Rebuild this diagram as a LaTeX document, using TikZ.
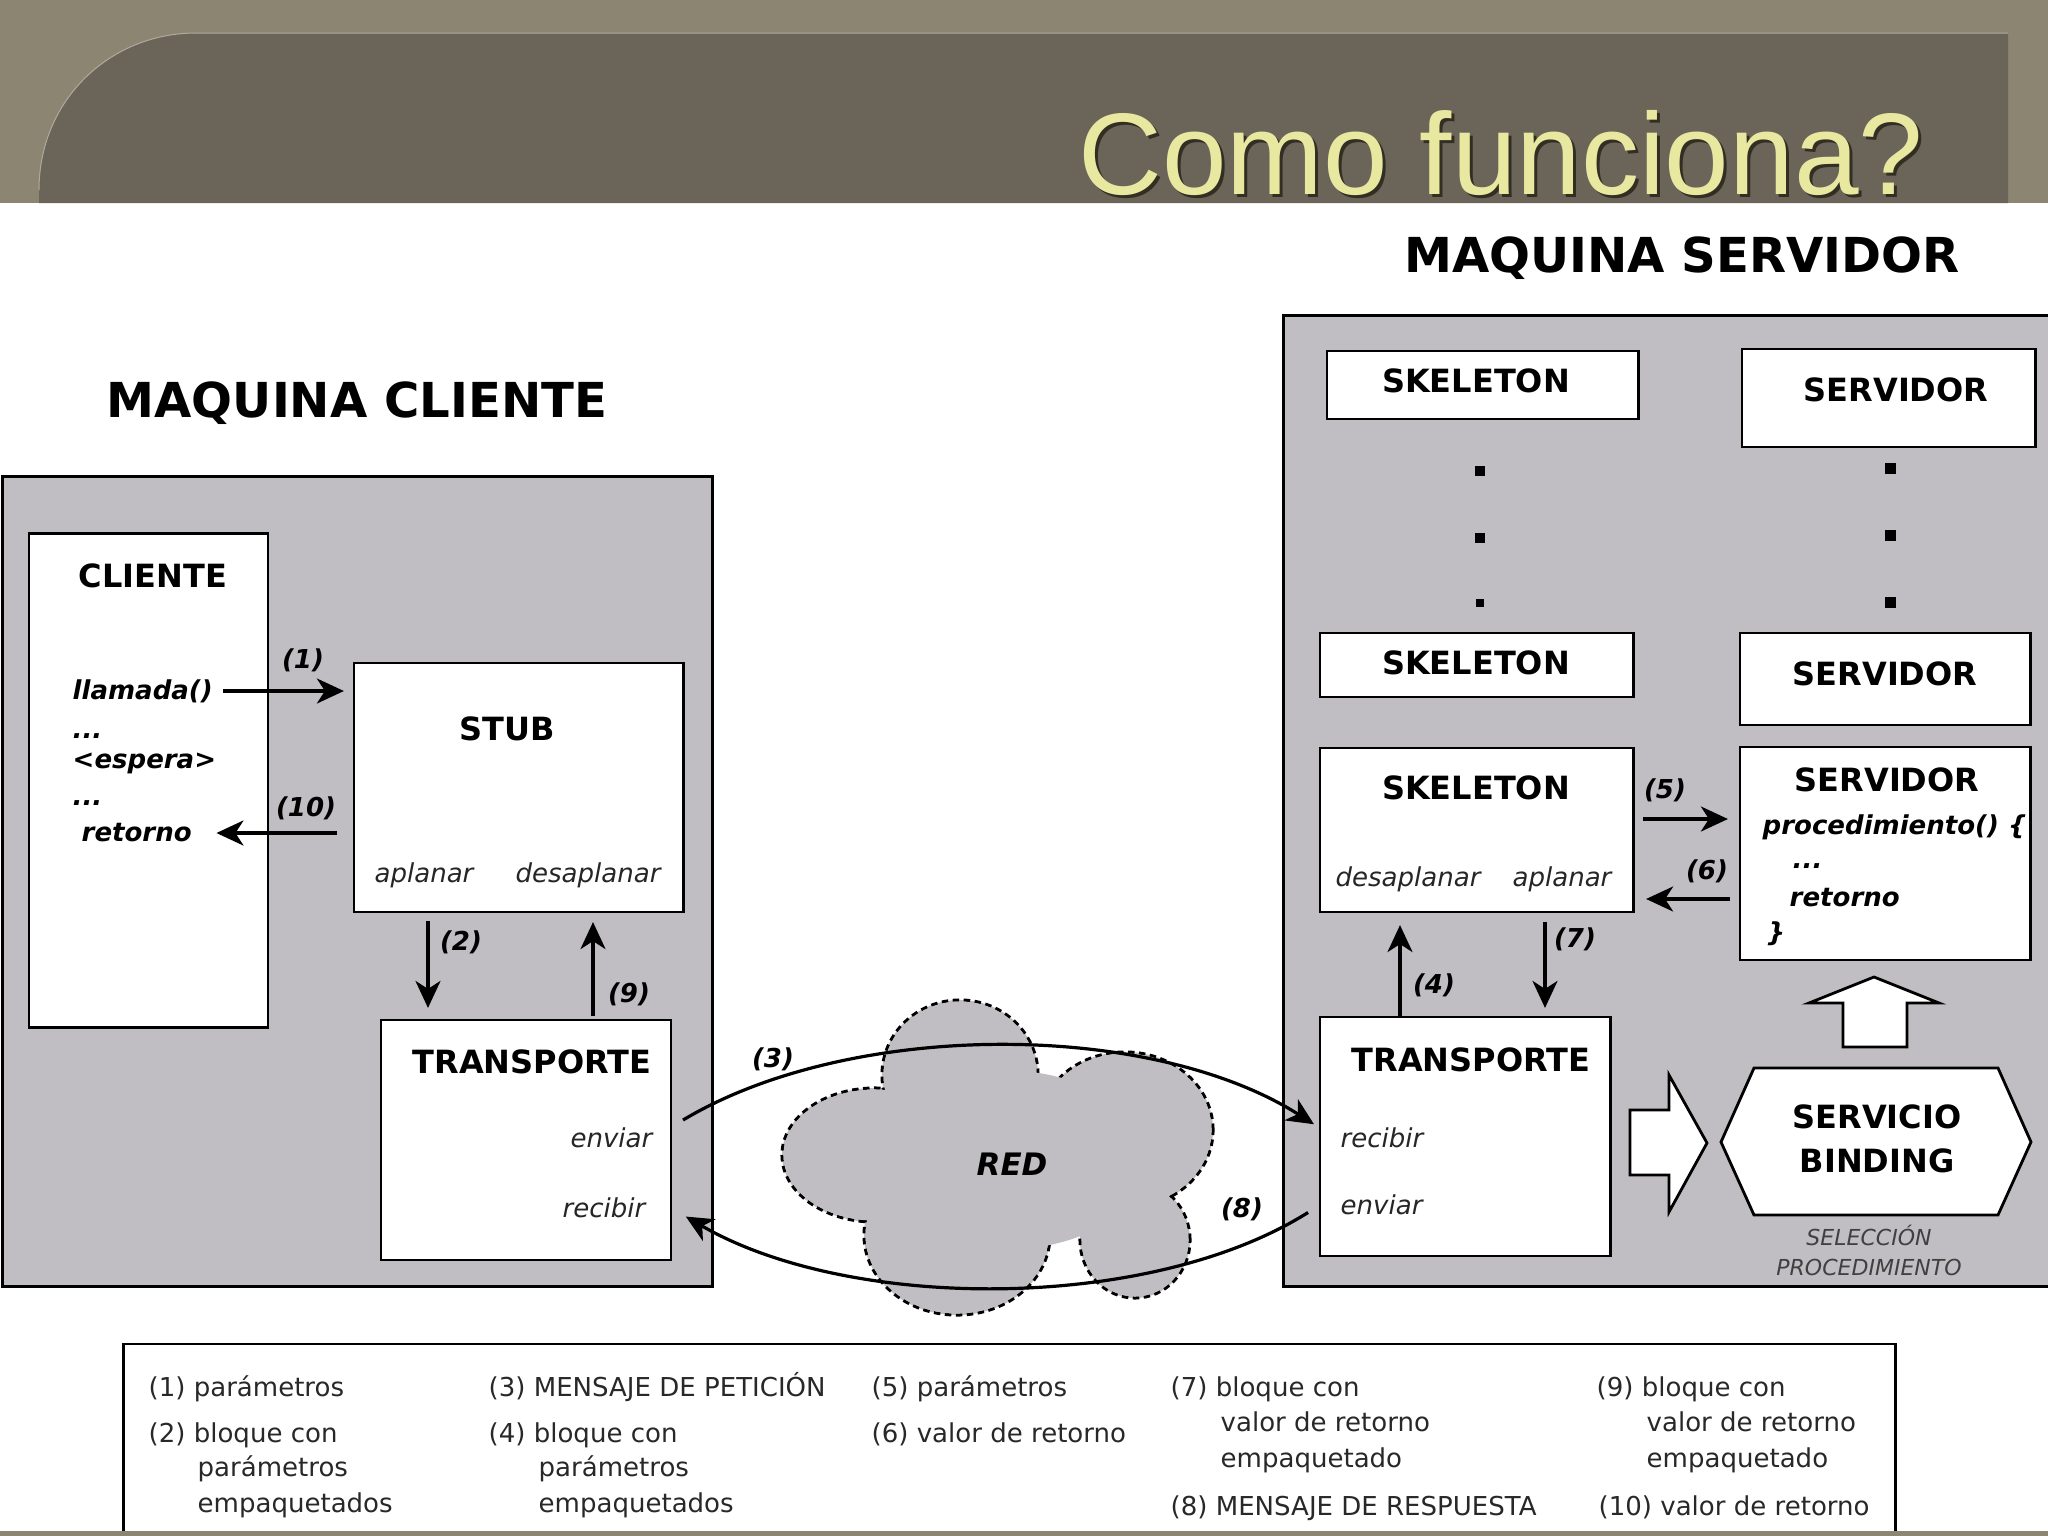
\documentclass[tikz,border=0pt]{standalone}
\usepackage{fontspec}
\setmainfont{DejaVu Sans}
\newfontfamily\titlefont{Liberation Sans}
\usetikzlibrary{arrows.meta}
\definecolor{boxgray}{RGB}{192,190,194}
\definecolor{hdrtan}{RGB}{140,133,114}
\definecolor{hdrdark}{RGB}{107,101,89}
\definecolor{titleyel}{RGB}{232,232,160}
\definecolor{titleshd}{RGB}{50,46,34}
\definecolor{legtext}{RGB}{40,40,40}
\tikzset{
  mach/.style={draw=black, fill=boxgray, line width=0.028cm, inner sep=0, outer sep=0},
  wbox/.style={draw=black, fill=white, line width=0.028cm, inner sep=0, outer sep=0},
  ttl/.style={font=\fontsize{9.1pt}{11pt}\selectfont\bfseries, inner sep=0},
  big/.style={font=\fontsize{13.7pt}{16pt}\selectfont\bfseries, inner sep=0},
  itl/.style={font=\fontsize{7.4pt}{9pt}\selectfont\itshape, inner sep=0, text=black!85},
  bit/.style={font=\fontsize{7.4pt}{9pt}\selectfont\bfseries\itshape, inner sep=0},
  arr/.style={line width=0.032cm, -{Stealth[length=0.27cm,width=0.25cm,inset=0.08cm]}},
  leg/.style={font=\fontsize{7.4pt}{9pt}\selectfont, inner sep=0, anchor=west, text=legtext, text height=0.76em, text depth=0.24em},
  sq/.style={fill=black, inner sep=0, minimum size=0.1cm},
  hollow/.style={draw=black, fill=white, line width=0.028cm, line join=miter},
  cloudb/.style={draw=black, fill=boxgray, line width=0.03cm, dash pattern=on 0.065cm off 0.045cm}
}
\begin{document}
\begin{tikzpicture}[x=0.01cm, y=-0.01cm]
\useasboundingbox (0,0) rectangle (2048,1536);
\clip (0,0) rectangle (2048,1536);
% header
\fill[hdrtan] (0,0) rectangle (2048,203);
\fill[hdrdark] (39,203) -- (39,190) .. controls (39,100) and (110,33) .. (196,33) -- (2008,33) -- (2008,203) -- cycle;
\draw[hdrtan!70!white, line width=0.01cm] (39,190) .. controls (39,100) and (110,33) .. (196,33) -- (2008,33);
\node[anchor=east, inner sep=0, font=\titlefont\fontsize{33pt}{36pt}\selectfont, text=titleshd] (titleshadow) at (1927,156) {Como funciona?};
\node[anchor=east, inner sep=0, font=\titlefont\fontsize{33pt}{36pt}\selectfont, text=titleyel] (title) at (1924,153) {Como funciona?};

% machine labels
\node[big] (lblserv) at (1682,258) {MAQUINA SERVIDOR};
\node[big] (lblcli) at (357,403) {MAQUINA CLIENTE};

% machines
\node[mach, minimum width=7.09cm, minimum height=8.09cm] (climach) at (357.5,881.5) {};
\node[mach, minimum width=7.76cm, minimum height=9.70cm] (servmach) at (1672,801) {};

% client side boxes
\node[wbox, minimum width=2.39cm, minimum height=4.93cm] (cliente) at (148.5,780.5) {};
\node[wbox, minimum width=3.29cm, minimum height=2.49cm] (stub) at (518.5,787.5) {};
\node[wbox, minimum width=2.90cm, minimum height=2.40cm] (transC) at (526,1140) {};

\node[ttl] (clienteT) at (153,576) {CLIENTE};
\node[bit, anchor=west] (llamada) at (72,691) {llamada()};
\node[bit, anchor=west] (dots1) at (72,736) {...};
\node[bit, anchor=west] (espera) at (72,763) {<espera>};
\node[bit, anchor=west] (dots2) at (72,803) {...};
\node[bit, anchor=west] (retorno) at (81,833) {retorno};

\node[ttl] (stubT) at (507,729) {STUB};
\node[itl] (aplanarC) at (424,875) {aplanar};
\node[itl] (desaplanarC) at (588,875) {desaplanar};

\node[ttl] (transCT) at (532,1062) {TRANSPORTE};
\node[itl, anchor=east] (enviarC) at (653,1138) {enviar};
\node[itl, anchor=east] (recibirC) at (646,1208) {recibir};

% client arrows
\coordinate (p2) at (428,921);
\coordinate (p9) at (593,1016);
\draw[arr, shorten <=0.1cm, shorten >=0.1cm] (llamada.east) -- (stub.west |- llamada.east);
\draw[arr, shorten <=0.17cm, shorten >=0.24cm] (stub.west |- retorno.east) -- (retorno.east);
\draw[arr, shorten <=0.09cm, shorten >=0.12cm] (p2 |- stub.south) -- (p2 |- transC.north);
\draw[arr, shorten <=0.04cm, shorten >=0.1cm] (p9 |- transC.north) -- (p9 |- stub.south);
\node[bit] (n1) at (303,660) {(1)};
\node[bit] (n10) at (306,808) {(10)};
\node[bit] (n2) at (461,942) {(2)};
\node[bit] (n9) at (629,994) {(9)};

% server side boxes
\node[wbox, minimum width=3.11cm, minimum height=0.68cm] (skel1) at (1482.5,385) {};
\node[wbox, minimum width=2.93cm, minimum height=0.98cm] (serv1) at (1888.5,398) {};
\node[wbox, minimum width=3.13cm, minimum height=0.64cm] (skel2) at (1476.5,665) {};
\node[wbox, minimum width=2.90cm, minimum height=0.92cm] (serv2) at (1885,679) {};
\node[wbox, minimum width=3.13cm, minimum height=1.64cm] (skel3) at (1476.5,830) {};
\node[wbox, minimum width=2.90cm, minimum height=2.13cm] (serv3) at (1885,853.5) {};
\node[wbox, minimum width=2.90cm, minimum height=2.39cm] (transS) at (1465,1136.5) {};

\node[ttl] (skel1T) at (1476,381) {SKELETON};
\node[ttl] (serv1T) at (1896,390) {SERVIDOR};
\node[ttl] (skel2T) at (1476,663) {SKELETON};
\node[ttl] (serv2T) at (1885,674) {SERVIDOR};
\node[ttl] (skel3T) at (1476,788) {SKELETON};
\node[itl] (desaplanarS) at (1408,879) {desaplanar};
\node[itl] (aplanarS) at (1562,879) {aplanar};
\node[ttl] (serv3T) at (1887,780) {SERVIDOR};
\node[bit, anchor=west] (proc) at (1762,827) {procedimiento() \{};
\node[bit, anchor=west] (dots3) at (1792,866) {...};
\node[bit, anchor=west] (retornoS) at (1789,898) {retorno};
\node[bit, anchor=west] (brace) at (1766,934) {\}};
\node[ttl] (transST) at (1471,1060) {TRANSPORTE};
\node[itl, anchor=west] (recibirS) at (1340,1138) {recibir};
\node[itl, anchor=west] (enviarS) at (1340,1205) {enviar};

% dots between boxes
\node[sq] (d1) at (1480,471) {};
\node[sq] (d2) at (1480,538) {};
\node[sq, minimum size=0.085cm] (d3) at (1480,603) {};
\node[sq, minimum size=0.11cm] (d4) at (1890,468) {};
\node[sq, minimum size=0.11cm] (d5) at (1890,535) {};
\node[sq, minimum size=0.11cm] (d6) at (1890,602) {};

% server arrows
\coordinate (p5) at (1643,819);
\coordinate (p6) at (1730,899);
\coordinate (p4) at (1400,1013);
\coordinate (p7) at (1545,922);
\draw[arr, shorten <=0.1cm, shorten >=0.12cm] (skel3.east |- p5) -- (serv3.west |- p5);
\draw[arr, shorten <=0.1cm, shorten >=0.13cm] (serv3.west |- p6) -- (skel3.east |- p6);
\draw[arr, shorten >=0.13cm] (p4 |- transS.north) -- (p4 |- skel3.south);
\draw[arr, shorten <=0.1cm, shorten >=0.09cm] (p7 |- skel3.south) -- (p7 |- transS.north);
\node[bit] (n5) at (1665,790) {(5)};
\node[bit] (n6) at (1707,871) {(6)};
\node[bit] (n4) at (1434,985) {(4)};
\node[bit] (n7) at (1575,939) {(7)};

% hollow arrows and binding
\draw[hollow] (1843,1047) -- (1843,1003) -- (1809,1003) -- (1874,977) -- (1939,1003) -- (1907,1003) -- (1907,1047) -- cycle;
\draw[hollow] (1630,1110) -- (1669,1110) -- (1669,1075) -- (1707,1143) -- (1669,1212) -- (1669,1175) -- (1630,1175) -- cycle;
\draw[hollow] (1721,1142) -- (1754,1068) -- (1998,1068) -- (2031,1142) -- (1998,1215) -- (1754,1215) -- cycle;
\node[ttl, align=center, font=\fontsize{9.1pt}{12.5pt}\selectfont\bfseries] (binding) at (1877,1139) {SERVICIO\\BINDING};
\node[align=center, inner sep=0, font=\fontsize{6.26pt}{8.5pt}\selectfont\itshape, text=black!75] (selec) at (1869,1250) {SELECCIÓN\\PROCEDIMIENTO};

% cloud
\draw[cloudb] (875,1155) ellipse[x radius=0.93cm, y radius=0.67cm];
\draw[cloudb] (960,1075) ellipse[x radius=0.78cm, y radius=0.75cm];
\draw[cloudb] (1125,1130) ellipse[x radius=0.88cm, y radius=0.78cm];
\draw[cloudb] (1135,1240) ellipse[x radius=0.55cm, y radius=0.58cm];
\draw[cloudb] (957,1235) ellipse[x radius=0.93cm, y radius=0.80cm];
\fill[boxgray] (875,1155) ellipse[x radius=0.915cm, y radius=0.655cm];
\fill[boxgray] (960,1075) ellipse[x radius=0.765cm, y radius=0.735cm];
\fill[boxgray] (1125,1130) ellipse[x radius=0.865cm, y radius=0.765cm];
\fill[boxgray] (1135,1240) ellipse[x radius=0.535cm, y radius=0.565cm];
\fill[boxgray] (957,1235) ellipse[x radius=0.915cm, y radius=0.785cm];
\fill[boxgray] (1000,1160) ellipse[x radius=1.5cm, y radius=0.9cm];
\node[font=\fontsize{8.8pt}{10pt}\selectfont\bfseries\itshape, inner sep=0] (red) at (1012,1164) {RED};

% network arrows
\draw[arr, shorten <=0.35cm, shorten >=0.07cm] (enviarC.east) .. controls (850,1020) and (1150,1020) .. (transS.west |- 0,1128);
\draw[arr, shorten <=0.14cm, shorten >=0.17cm] (transS.west |- enviarS.west) .. controls (1150,1312) and (850,1312) .. (transC.east |- recibirC.east);
\node[bit] (n3) at (773,1059) {(3)};
\node[bit] (n8) at (1242,1209) {(8)};

% legend
\node[wbox, minimum width=17.71cm, minimum height=1.96cm] (legend) at (1009.5,1442) {};
\node[leg] (l1) at (148,1387) {(1) parámetros};
\node[leg] (l2) at (148,1433) {(2) bloque con};
\node[leg] (l3) at (197,1467) {parámetros};
\node[leg] (l4) at (197,1503) {empaquetados};
\node[leg] (l5) at (488,1387) {(3) MENSAJE DE PETICIÓN};
\node[leg] (l6) at (488,1433) {(4) bloque con};
\node[leg] (l7) at (538,1467) {parámetros};
\node[leg] (l8) at (538,1503) {empaquetados};
\node[leg] (l9) at (871,1387) {(5) parámetros};
\node[leg] (l10) at (871,1433) {(6) valor de retorno};
\node[leg] (l11) at (1170,1387) {(7) bloque con};
\node[leg] (l12) at (1220,1422) {valor de retorno};
\node[leg] (l13) at (1220,1458) {empaquetado};
\node[leg] (l14) at (1170,1506) {(8) MENSAJE DE RESPUESTA};
\node[leg] (l15) at (1596,1387) {(9) bloque con};
\node[leg] (l16) at (1646,1422) {valor de retorno};
\node[leg] (l17) at (1646,1458) {empaquetado};
\node[leg] (l18) at (1598,1506) {(10) valor de retorno};

% bottom strip
\fill[hdrtan] (0,1531) rectangle (2048,1536);
\end{tikzpicture}
\end{document}
